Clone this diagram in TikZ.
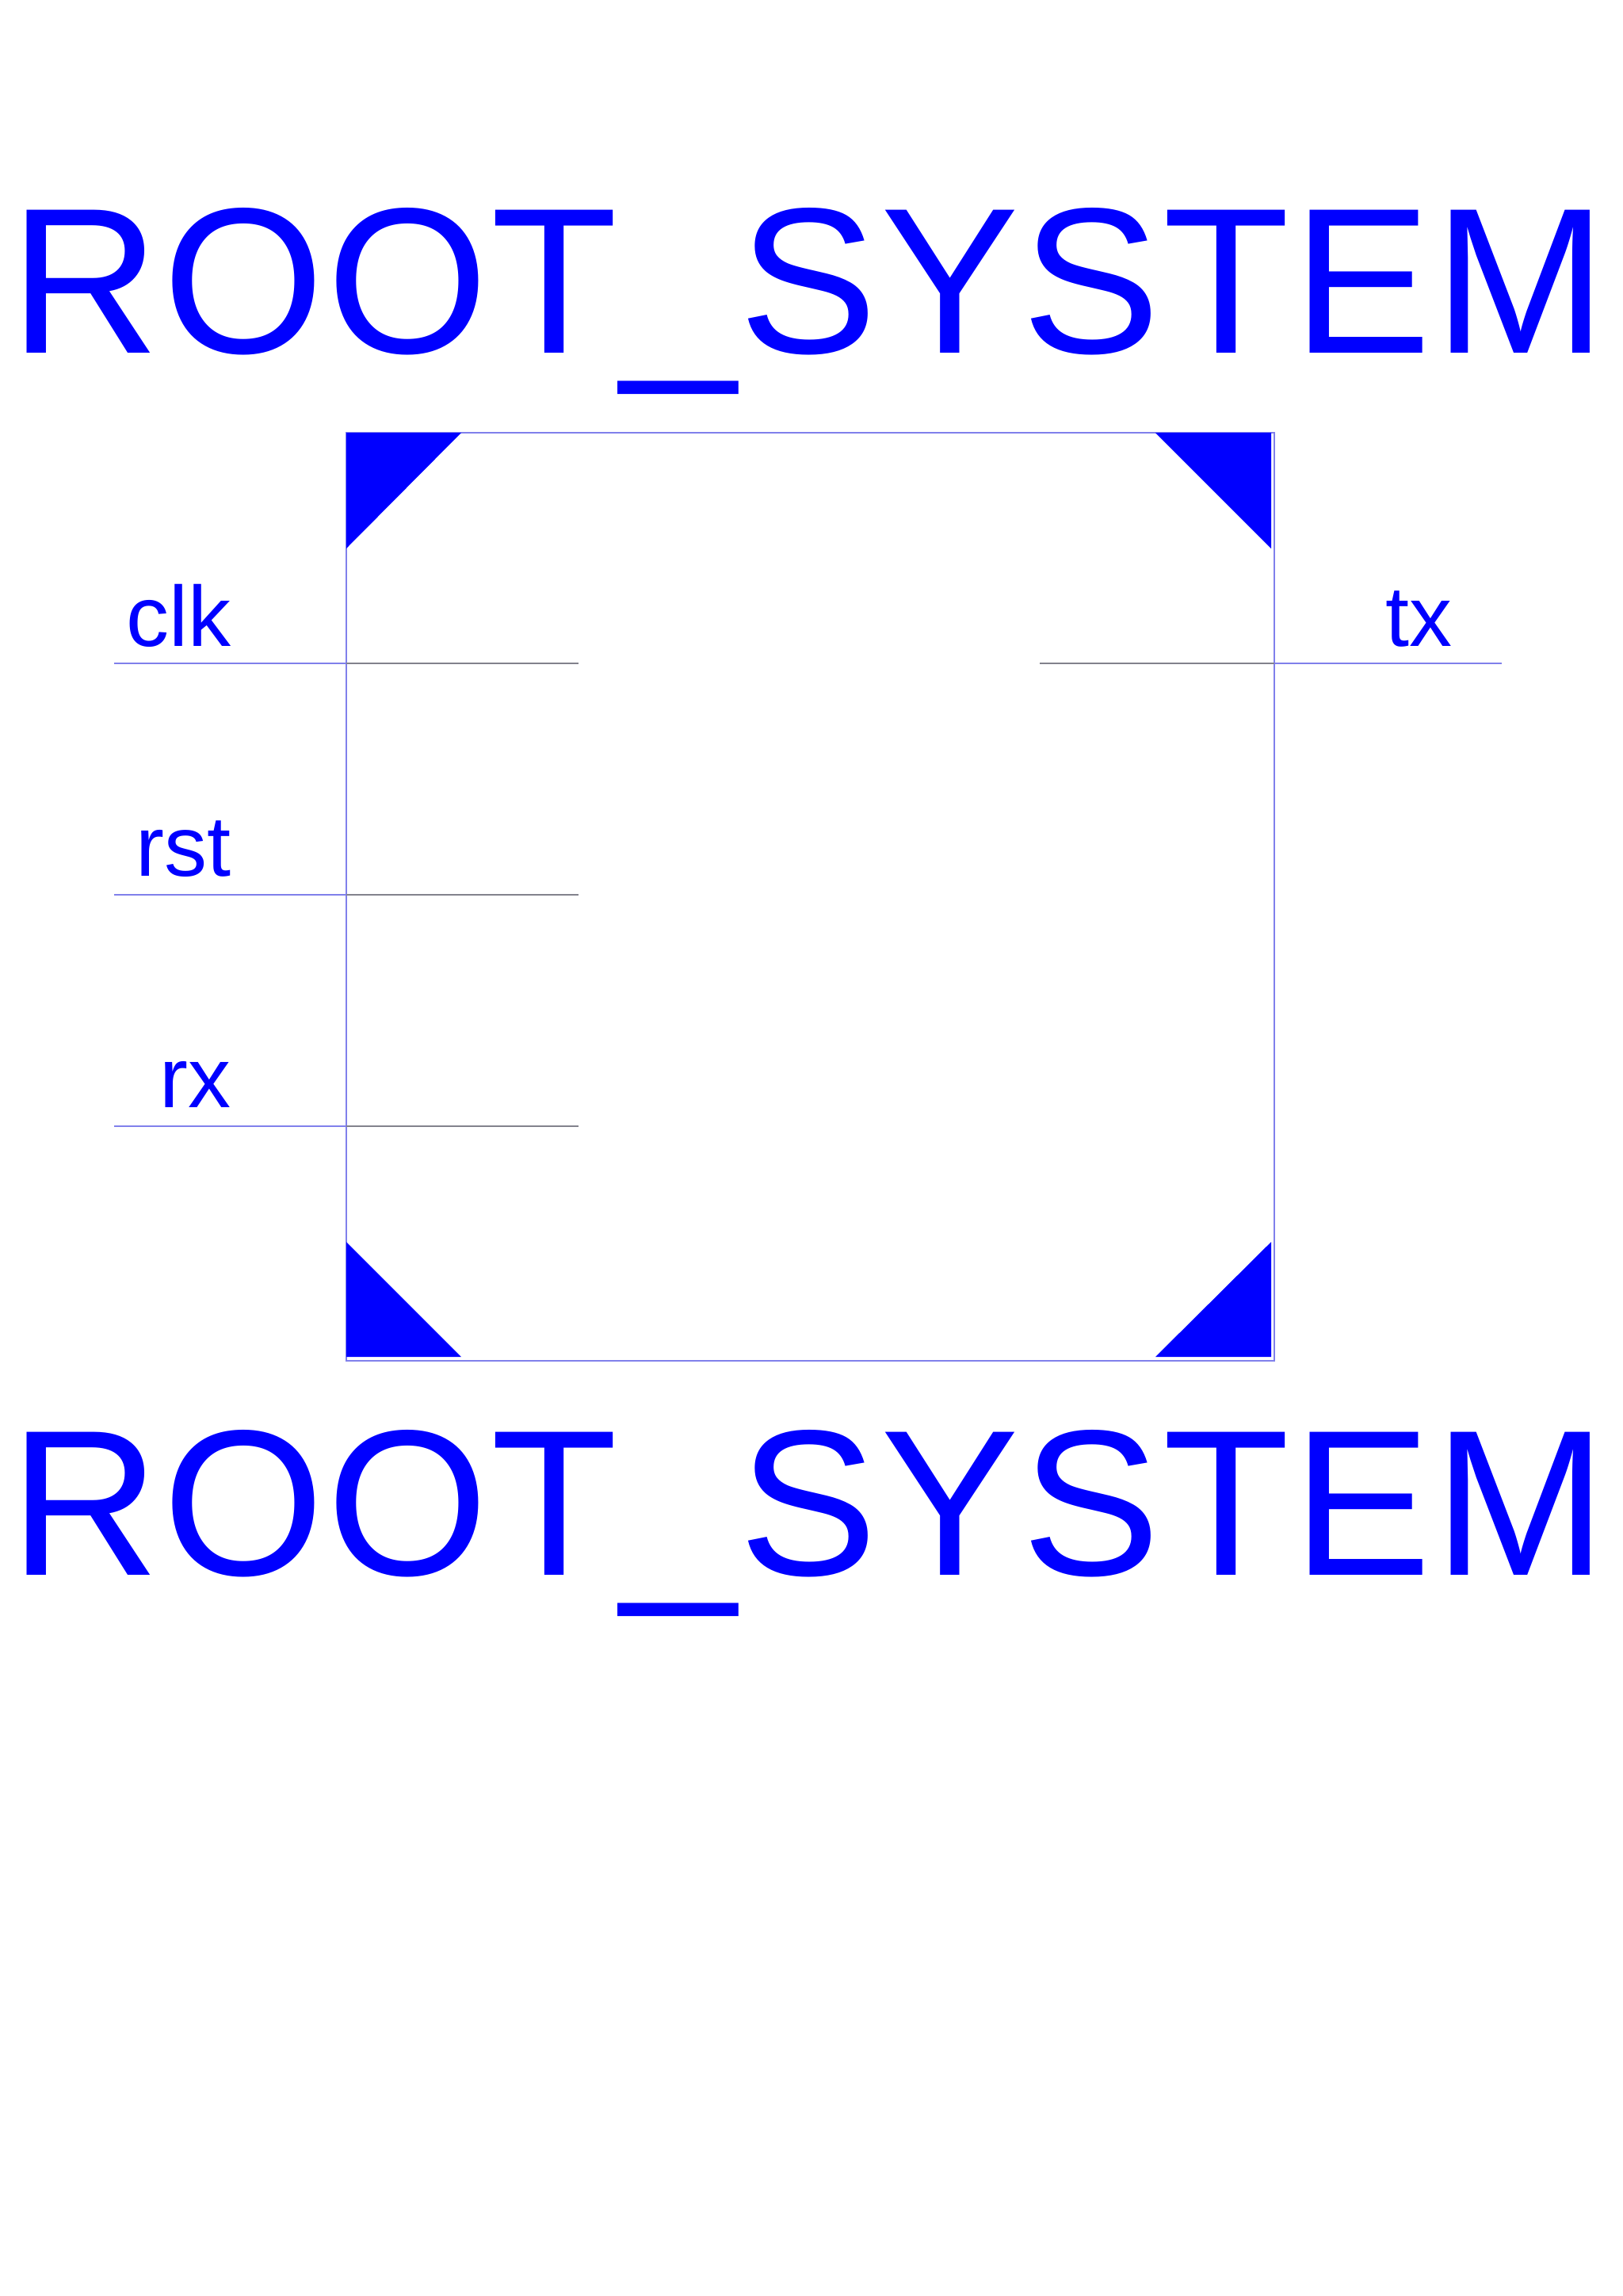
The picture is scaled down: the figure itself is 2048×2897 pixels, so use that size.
\documentclass[tikz,border=0pt]{standalone}
\usepackage{fontspec}
\setmainfont{Liberation Sans}
\newfontfamily\titlefont[LetterSpace=1.3]{Liberation Sans}
\definecolor{pinblue}{RGB}{0,0,255}
\definecolor{frameblue}{RGB}{128,128,235}
\definecolor{wiregray}{RGB}{130,130,140}
\tikzset{
  title/.style={anchor=base west, inner sep=0pt, text=pinblue, font=\titlefont\fontsize{76.5}{80}\selectfont},
  pinlabel/.style={inner sep=0pt, text=pinblue, font=\fontsize{31.5}{36}\selectfont},
  corner/.style={fill=pinblue, draw=none}
}
\begin{document}
\begin{tikzpicture}[x=0.10254mm, y=-0.10254mm]
        \useasboundingbox (0,0) rectangle (2048,2897);
        \node[title] (toptitle) at (12,445) {ROOT\_SYSTEM};
        \node[title] (bottitle) at (12,1987) {ROOT\_SYSTEM};
        % block outline
        \draw[frameblue, line width=0.6pt] (437,546) rectangle (1608,1717);
        \fill[corner] (437,546) -- (582,546) -- (437,692) -- cycle;
        \fill[corner] (1458,546) -- (1604,546) -- (1604,692) -- cycle;
        \fill[corner] (437,1567) -- (437,1712) -- (582,1712) -- cycle;
        \fill[corner] (1458,1712) -- (1604,1712) -- (1604,1567) -- cycle;
        % ports
        \node[pinlabel, anchor=base east] (clk) at (292,815) {clk};
        \node[pinlabel, anchor=base east] (rst) at (292,1105) {rst};
        \node[pinlabel, anchor=base east] (rx) at (292,1397) {rx};
        \node[pinlabel, anchor=base west] (tx) at (1748,815) {tx};
        \foreach \p/\y in {clk/837, rst/1129, rx/1421} {
            \coordinate (\p out) at (144,\y);
            \coordinate (\p edge) at (437,\y);
            \coordinate (\p in) at (730,\y);
            \draw[frameblue, line width=0.5pt] (\p out) -- (\p edge);
            \draw[wiregray, line width=0.5pt] (\p edge) -- (\p in);
        }
        \coordinate (txin) at (1312,837);
        \coordinate (txedge) at (1608,837);
        \coordinate (txout) at (1895,837);
        \draw[wiregray, line width=0.5pt] (txin) -- (txedge);
        \draw[frameblue, line width=0.5pt] (txedge) -- (txout);
    \end{tikzpicture}
\end{document}
